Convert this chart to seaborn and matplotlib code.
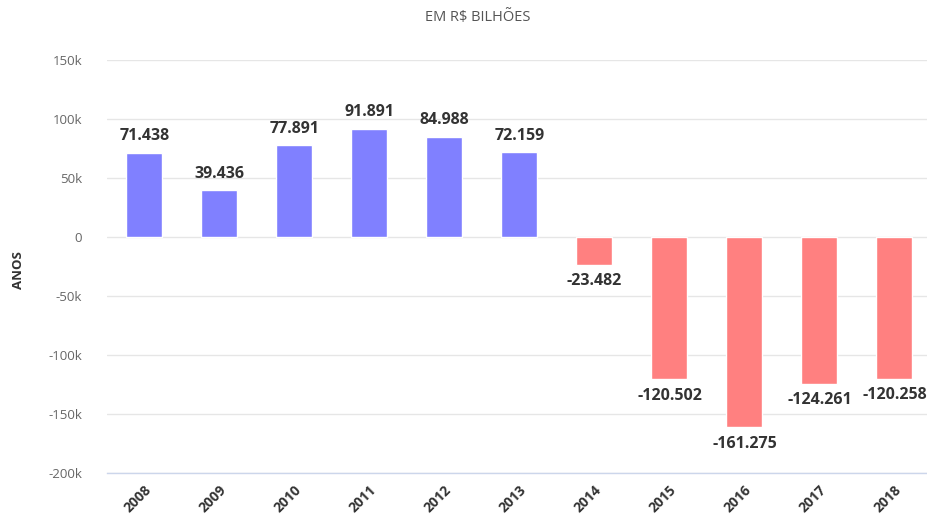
import matplotlib
matplotlib.use("Agg")
import matplotlib.pyplot as plt
import seaborn as sns
import pandas as pd
from matplotlib.ticker import FuncFormatter, FixedLocator

years = ["2008", "2009", "2010", "2011", "2012", "2013", "2014", "2015", "2016", "2017", "2018"]
values = [71438, 39436, 77891, 91891, 84988, 72159, -23482, -120502, -161275, -124261, -120258]
labels = ["71.438", "39.436", "77.891", "91.891", "84.988", "72.159", "-23.482",
          "-120.502", "-161.275", "-124.261", "-120.258"]
title = "EM R$ BILHÕES"
ylabel = "ANOS"

sns.set_theme(style="white")
plt.rcParams['font.family'] = ['Open Sans', 'DejaVu Sans']

df = pd.DataFrame({"ano": years, "valor": values})
df["sinal"] = ["pos" if v >= 0 else "neg" for v in values]

fig = plt.figure(figsize=(9.28, 5.17), dpi=100)
ax = fig.add_axes([107/928, (517-473)/517, (932-107)/928, (473-60)/517])

sns.barplot(data=df, x="ano", y="valor", hue="sinal",
            palette={"pos": "#8080ff", "neg": "#ff8080"},
            width=0.48, dodge=False, legend=False, ax=ax, saturation=1)

ax.set_ylim(-200000, 150000)
ax.set_xlim(-0.5, len(years) - 0.5)
ax.set_yticks(range(-200000, 150001, 50000))
ax.yaxis.set_major_formatter(FuncFormatter(lambda v, p: "0" if v == 0 else f"{int(v/1000)}k"))
ax.grid(axis="y", color="#e6e6e6", linewidth=1)
ax.set_axisbelow(True)

for s in ["top", "right", "left"]:
    ax.spines[s].set_visible(False)
ax.spines["bottom"].set_color("#ccd6eb")
ax.spines["bottom"].set_linewidth(1)

ax.tick_params(axis="y", length=0, labelsize=9.5, labelcolor="#666666", pad=18)
ax.tick_params(axis="x", which="major", length=0, labelsize=10, labelcolor="#333333", pad=7)
ax.xaxis.set_minor_locator(FixedLocator([i - 0.5 for i in range(len(years) + 1)]))
ax.tick_params(axis="x", which="minor", length=10, color="#ccd6eb", width=1)
for t in ax.get_xticklabels():
    t.set_rotation(45)
    t.set_ha("right")
    t.set_rotation_mode("anchor")
    t.set_fontweight("bold")

ax.set_xlabel("")
ax.set_ylabel("")
fig.text(18/928, 1 - 270/517, ylabel, rotation=90, ha="center", va="center",
         fontsize=9.5, fontweight="bold", color="#333333")

for i, (v, lab) in enumerate(zip(values, labels)):
    if v >= 0:
        ax.annotate(lab, (i, v), xytext=(0, 6), textcoords="offset points",
                    ha="center", va="bottom", fontsize=11.5, fontweight="bold", color="#333333")
    else:
        ax.annotate(lab, (i, v), xytext=(0, -6), textcoords="offset points",
                    ha="center", va="top", fontsize=11.5, fontweight="bold", color="#333333")

fig.text(478/928, 1 - 18/517, title, ha="center", va="center", fontsize=10.5, color="#555555")

fig.savefig("out.png", dpi=100)
